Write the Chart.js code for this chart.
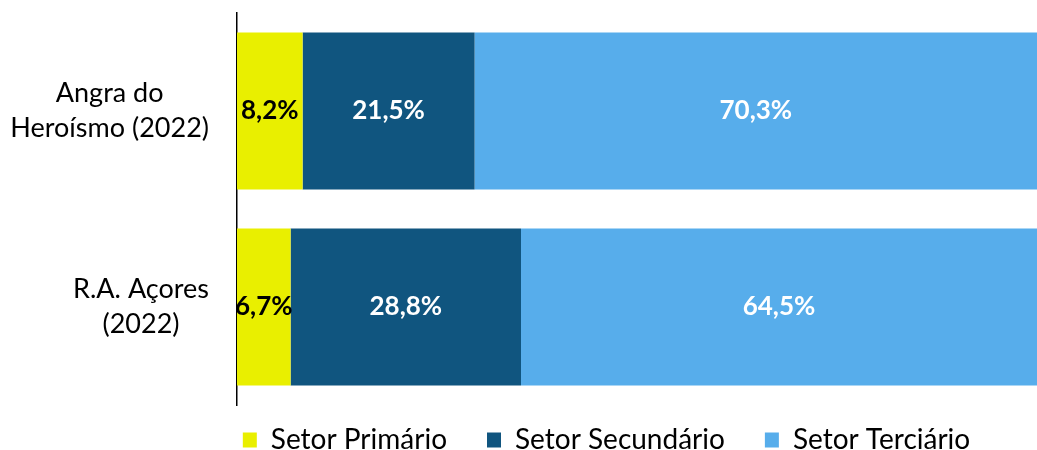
<!DOCTYPE html>
<html>
<head>
<meta charset="utf-8">
<script src="https://cdn.jsdelivr.net/npm/chart.js@4.4.0/dist/chart.umd.min.js"></script>
<style>
html, body { margin: 0; padding: 0; background: #fff; }
#wrap { width: 1037px; height: 450px; }
</style>
</head>
<body>
<div id="wrap"><canvas id="myChart"></canvas></div>
<script>
// data
const regions = [['Angra do', 'Heroísmo (2022)'], ['R.A. Açores', '(2022)']];
const seriesNames = ['Setor Primário', 'Setor Secundário', 'Setor Terciário'];
const primario = [8.2, 6.7];
const secundario = [21.5, 28.8];
const terciario = [70.3, 64.5];

const FONT = 'Lato';

// region names drawn left of the axis, each block right aligned, lines centred
const regionLabels = {
    id: 'regionLabels',
    afterDraw(chart) {
        const ctx = chart.ctx;
        const yScale = chart.scales.y;
        const right = chart.chartArea.left - 28;
        ctx.save();
        ctx.font = '27px ' + FONT;
        ctx.fillStyle = '#000';
        ctx.textAlign = 'center';
        ctx.textBaseline = 'middle';
        regions.forEach(function(lines, i){
            let widest = 0;
            for (let line of lines) {
                widest = Math.max(widest, ctx.measureText(line).width);
            }
            const cx = right - widest / 2;
            const cy = yScale.getPixelForValue(i);
            lines.forEach(function(line, j){
                ctx.fillText(line, cx, cy + (j - (lines.length - 1) / 2) * 35);
            });
        });
        ctx.restore();
    }
};

// percentage labels in the middle of each segment
const valueLabels = {
    id: 'valueLabels',
    afterDatasetsDraw(chart) {
        const ctx = chart.ctx;
        ctx.save();
        ctx.font = 'bold 26px ' + FONT;
        ctx.textAlign = 'center';
        ctx.textBaseline = 'middle';
        chart.data.datasets.forEach(function(ds, d){
            const meta = chart.getDatasetMeta(d);
            ctx.fillStyle = d == 0 ? '#000' : '#fff';
            meta.data.forEach(function(bar, i){
                const p = bar.getCenterPoint();
                const txt = ds.data[i].toFixed(1).replace('.', ',') + '%';
                ctx.fillText(txt, p.x, p.y);
            });
        });
        ctx.restore();
    }
};

// move the legend where the original has it (top only, so the clip box grows)
const legendNudge = {
    id: 'legendNudge',
    afterLayout(chart) {
        const lg = chart.legend;
        lg.top -= 19;
        lg.left += 88; lg.right += 88;
    }
};

const ctx = document.getElementById('myChart');

new Chart(ctx, {
    type: 'bar',
    data: {
        labels: regions,
        datasets: [
            { label: seriesNames[0], data: primario, backgroundColor: '#E9EF00', borderWidth: 0 },
            { label: seriesNames[1], data: secundario, backgroundColor: '#10557F', borderWidth: 0 },
            { label: seriesNames[2], data: terciario, backgroundColor: '#57ADEB', borderWidth: 0 }
        ]
    },
    options: {
        indexAxis: 'y',
        responsive: true,
        maintainAspectRatio: false,
        animation: false,
        layout: { padding: { top: 13, right: 0, bottom: 0, left: 0 } },
        datasets: { bar: { barPercentage: 0.8, categoryPercentage: 1.0 } },
        scales: {
            x: { stacked: true, min: 0, max: 100, display: false },
            y: {
                stacked: true,
                grid: { display: false },
                border: { display: true, color: '#000', width: 1.5 },
                ticks: { display: false },
                afterFit: function(scale){ scale.width = 237; }
            }
        },
        plugins: {
            tooltip: { enabled: false },
            legend: {
                position: 'bottom',
                maxHeight: 45,
                labels: {
                    boxWidth: 14,
                    boxHeight: 15,
                    padding: 40,
                    color: '#000',
                    font: { family: FONT, size: 28 }
                }
            }
        }
    },
    plugins: [regionLabels, valueLabels, legendNudge]
});
</script>
</body>
</html>
